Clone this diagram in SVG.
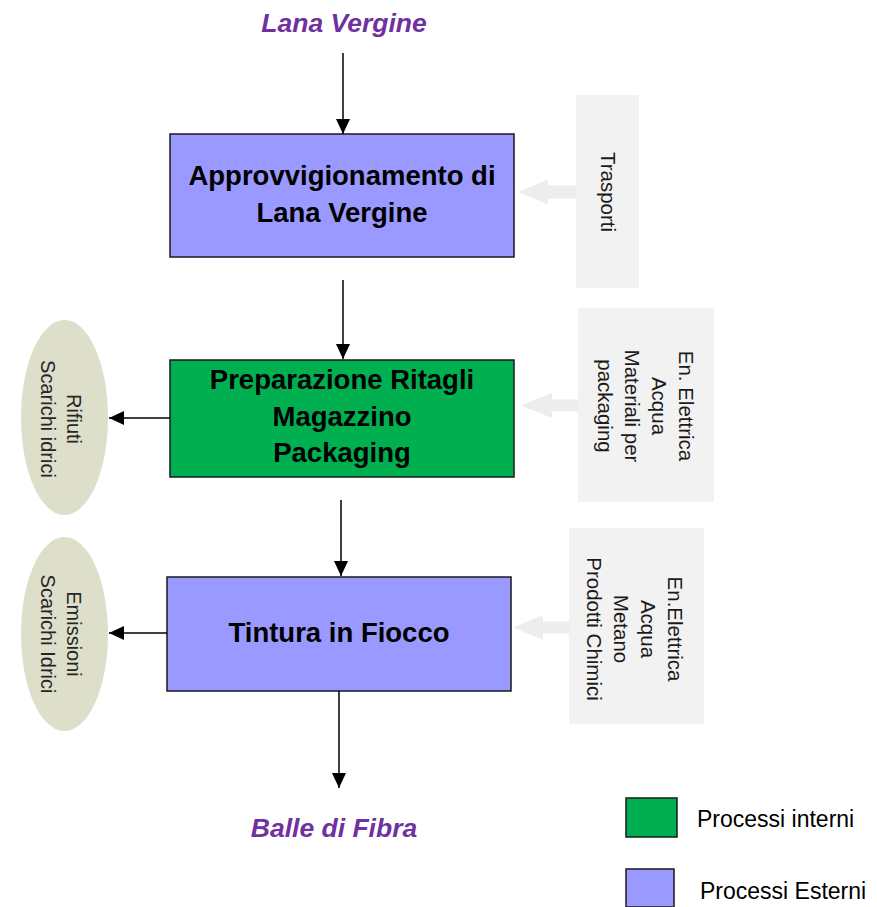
<svg xmlns="http://www.w3.org/2000/svg" width="877" height="907" viewBox="0 0 877 907">
  <style>
    .proc { stroke: #1a1a1a; stroke-width: 1.5; }
    .ext { fill: #9999FF; }
    .int { fill: #00B050; }
    .label { font-family: "Liberation Sans", Arial, sans-serif; font-weight: bold; font-size: 27.5px; fill: #000; text-anchor: middle; }
    .io { font-family: "Liberation Sans", Arial, sans-serif; font-weight: bold; font-style: italic; font-size: 26.5px; fill: #7030A0; text-anchor: middle; }
    .input-box { fill: #F2F2F2; }
    .input-arrow { fill: #EDEDED; }
    .side { font-family: "Liberation Sans", Arial, sans-serif; font-size: 20.5px; fill: #1a1a1a; text-anchor: middle; }
    .out { fill: #DDDFCB; }
    .out-text { font-family: "Liberation Sans", Arial, sans-serif; font-size: 20px; fill: #262626; text-anchor: middle; }
    .flow { stroke: #000; stroke-width: 1.5; fill: none; marker-end: url(#head); }
    .legend { font-family: "Liberation Sans", Arial, sans-serif; font-size: 23px; fill: #000; }
  </style>
  <defs>
    <marker id="head" markerUnits="userSpaceOnUse" markerWidth="15" markerHeight="14" refX="15" refY="7" orient="auto">
      <path d="M0,0 L15,7 L0,14 z" fill="#000"/>
    </marker>
  </defs>

  <!-- flow input / output labels -->
  <g id="input-lana">
    <text class="io" x="344" y="32">Lana Vergine</text>
  </g>
  <g id="output-balle">
    <text class="io" x="334" y="837">Balle di Fibra</text>
  </g>

  <!-- process steps -->
  <g id="approvvigionamento">
    <rect class="proc ext" x="170" y="134" width="344" height="123"/>
    <text class="label" x="342" y="185">Approvvigionamento di</text>
    <text class="label" x="342" y="222">Lana Vergine</text>
  </g>
  <g id="preparazione">
    <rect class="proc int" x="170" y="360" width="344" height="117"/>
    <text class="label" x="342" y="389">Preparazione Ritagli</text>
    <text class="label" x="342" y="426">Magazzino</text>
    <text class="label" x="342" y="462">Packaging</text>
  </g>
  <g id="tintura">
    <rect class="proc ext" x="167" y="577" width="344" height="114"/>
    <text class="label" x="339" y="642">Tintura in Fiocco</text>
  </g>

  <!-- external inputs -->
  <g id="in-trasporti">
    <rect class="input-box" x="576" y="95" width="63" height="193"/>
    <path class="input-arrow" d="M518,192 L548,179.5 L548,185.5 L576,185.5 L576,198.5 L548,198.5 L548,204.5 z"/>
    <text class="side" transform="translate(601,192) rotate(90)">Trasporti</text>
  </g>
  <g id="in-preparazione">
    <rect class="input-box" x="578" y="308" width="136" height="194"/>
    <path class="input-arrow" d="M521,405.5 L552,393 L552,399.5 L578,399.5 L578,411.5 L552,411.5 L552,418 z"/>
    <g class="side" transform="translate(0,406) rotate(90)">
      <text x="0" y="-679">En. Elettrica</text>
      <text x="0" y="-652">Acqua</text>
      <text x="0" y="-625">Materiali per</text>
      <text x="0" y="-598">packaging</text>
    </g>
  </g>
  <g id="in-tintura">
    <rect class="input-box" x="569" y="528" width="135" height="196"/>
    <path class="input-arrow" d="M513,627.5 L543,615 L543,621.5 L569,621.5 L569,633.5 L543,633.5 L543,640 z"/>
    <g class="side" transform="translate(0,629) rotate(90)">
      <text x="0" y="-668">En.Elettrica</text>
      <text x="0" y="-641">Acqua</text>
      <text x="0" y="-614">Metano</text>
      <text x="0" y="-587">Prodotti Chimici</text>
    </g>
  </g>

  <!-- outputs to environment -->
  <g id="out-preparazione">
    <ellipse class="out" cx="64.5" cy="417.5" rx="43.5" ry="97.5"/>
    <g class="out-text" transform="translate(0,419) rotate(90)">
      <text x="0" y="-67">Rifiuti</text>
      <text x="0" y="-41">Scarichi idrici</text>
    </g>
  </g>
  <g id="out-tintura">
    <ellipse class="out" cx="64.5" cy="634" rx="43.5" ry="97"/>
    <g class="out-text" transform="translate(0,634) rotate(90)">
      <text x="0" y="-67">Emissioni</text>
      <text x="0" y="-41">Scarichi Idrici</text>
    </g>
  </g>

  <!-- connectors -->
  <g id="connectors">
    <line class="flow" x1="343" y1="53" x2="343" y2="134"/>
    <line class="flow" x1="343" y1="280" x2="343" y2="359"/>
    <line class="flow" x1="341" y1="500" x2="341" y2="576"/>
    <line class="flow" x1="339" y1="691" x2="339" y2="788"/>
    <line class="flow" x1="170" y1="418" x2="109" y2="418"/>
    <line class="flow" x1="167" y1="633" x2="109" y2="633"/>
  </g>

  <!-- legend -->
  <g id="legend">
    <rect class="proc int" x="626" y="798" width="51" height="39"/>
    <text class="legend" x="697" y="827">Processi interni</text>
    <rect class="proc ext" x="626" y="869" width="48" height="38"/>
    <text class="legend" x="700" y="899">Processi Esterni</text>
  </g>
</svg>
